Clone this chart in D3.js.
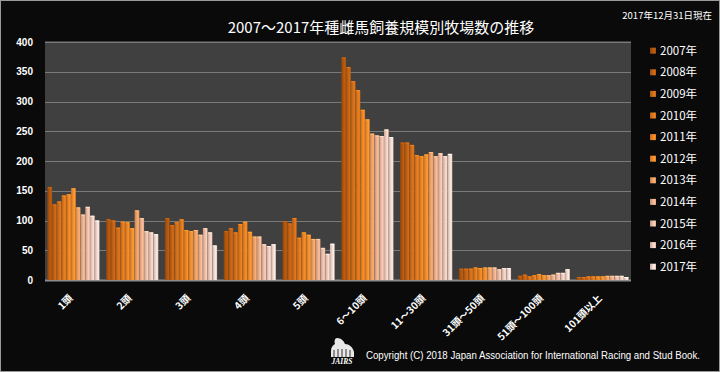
<!DOCTYPE html>
<html>
<head>
<meta charset="utf-8">
<script src="https://cdn.jsdelivr.net/npm/d3@7"></script>
<style>
  html, body { margin: 0; padding: 0; background: #0a0a0a; }
  svg { display: block; font-family: "Noto Sans CJK JP", "Noto Sans", sans-serif; }
</style>
</head>
<body>
<div id="chart"></div>
<script>
const categories = ['1頭', '2頭', '3頭', '4頭', '5頭', '6～10頭', '11～30頭', '31頭～50頭', '51頭～100頭', '101頭以上'];
const years = ['2007年', '2008年', '2009年', '2010年', '2011年', '2012年', '2013年', '2014年', '2015年', '2016年', '2017年'];

const y2007 = [156, 102, 104, 82, 99, 374, 231, 19, 7, 5];
const y2008 = [127, 100, 92, 87, 95, 358, 231, 19, 9, 5];
const y2009 = [132, 88, 97, 80, 104, 334, 227, 19, 6, 6];
const y2010 = [142, 98, 102, 94, 71, 319, 210, 21, 8, 6];
const y2011 = [144, 97, 84, 98, 80, 286, 208, 20, 10, 6];
const y2012 = [154, 87, 82, 81, 76, 270, 211, 21, 8, 6];
const y2013 = [122, 117, 84, 73, 69, 246, 215, 21, 8, 7];
const y2014 = [110, 104, 76, 73, 69, 243, 208, 21, 9, 7];
const y2015 = [123, 82, 87, 60, 54, 242, 213, 18, 12, 7];
const y2016 = [108, 80, 80, 57, 44, 253, 208, 20, 12, 7];
const y2017 = [100, 77, 58, 60, 61, 240, 212, 20, 18, 5];
const series = [y2007, y2008, y2009, y2010, y2011, y2012, y2013, y2014, y2015, y2016, y2017];

const yTicks = [0, 50, 100, 150, 200, 250, 300, 350, 400];

const colors = ['#b0560e', '#c26214', '#d06e1a', '#dc781e', '#ea8424', '#f28e2e',
                '#eea066', '#ecb08e', '#ecbea8', '#efcbbd', '#f2d9d0'];

const W = 720, H = 372;
const plot = {left: 45, right: 631, top: 42, bottom: 280};

const svg = d3.select('#chart').append('svg')
  .attr('width', W)
  .attr('height', H);

svg.append('rect')
  .attr('x', 0.5).attr('y', 0.5)
  .attr('width', W - 1).attr('height', H - 1)
  .attr('fill', '#0a0a0a')
  .attr('stroke', '#9a9a9a');

// gradients for a slightly rounded bar look
const defs = svg.append('defs');
colors.forEach((c, i) => {
  const g = defs.append('linearGradient')
    .attr('id', `g${i}`)
    .attr('x1', 0).attr('x2', 1).attr('y1', 0).attr('y2', 0);
  g.append('stop').attr('offset', '0%').attr('stop-color', d3.color(c).darker(0.6));
  g.append('stop').attr('offset', '45%').attr('stop-color', c);
  g.append('stop').attr('offset', '75%').attr('stop-color', d3.color(c).brighter(0.25));
  g.append('stop').attr('offset', '100%').attr('stop-color', d3.color(c).darker(0.3));
});

const x0 = d3.scaleBand()
  .domain(categories)
  .range([plot.left, plot.right])
  .paddingInner(0.113)
  .paddingOuter(0.04);

const x1 = d3.scaleBand()
  .domain(d3.range(years.length))
  .range([0, x0.bandwidth()])
  .padding(0);

const y = d3.scaleLinear()
  .domain([0, 400])
  .range([plot.bottom, plot.top]);

// plot background
svg.append('rect')
  .attr('x', plot.left)
  .attr('y', plot.top - 1)
  .attr('width', plot.right - plot.left)
  .attr('height', plot.bottom - plot.top + 1)
  .attr('fill', '#404040');

svg.append('g')
  .selectAll('line')
  .data(yTicks)
  .join('line')
  .attr('x1', plot.left)
  .attr('x2', plot.right)
  .attr('y1', d => Math.round(y(d)) + 0.5)
  .attr('y2', d => Math.round(y(d)) + 0.5)
  .attr('stroke', d => d === 0 ? '#8c8c8c' : '#7a7a7a')
  .attr('stroke-width', d => d === 0 ? 2 : 1.2);

// y labels
svg.append('g')
  .selectAll('text')
  .data(yTicks)
  .join('text')
  .attr('x', 33)
  .attr('y', d => y(d) + 3.5)
  .attr('text-anchor', 'end')
  .attr('fill', '#fff')
  .attr('font-size', 10)
  .attr('font-weight', 'bold')
  .attr('font-family', 'Liberation Sans, Arial, sans-serif')
  .text(d => d);

// bars
const groups = svg.append('g')
  .selectAll('g')
  .data(series)
  .join('g')
  .attr('fill', (d, i) => `url(#g${i})`);

groups.each(function (vals, si) {
  d3.select(this)
    .selectAll('rect')
    .data(vals)
    .join('rect')
    .attr('x', (d, ci) => x0(categories[ci]) + x1(si))
    .attr('y', d => y(d))
    .attr('width', x1.bandwidth())
    .attr('height', d => y(0) - y(d));
  // lighter cap on top of each bar
  d3.select(this)
    .selectAll('line')
    .data(vals)
    .join('line')
    .attr('x1', (d, ci) => x0(categories[ci]) + x1(si) + 0.5)
    .attr('x2', (d, ci) => x0(categories[ci]) + x1(si) + x1.bandwidth() - 0.5)
    .attr('y1', d => y(d) + 0.5)
    .attr('y2', d => y(d) + 0.5)
    .attr('stroke', d3.color(colors[si]).brighter(0.5))
    .attr('stroke-width', 1);
});

// x labels
svg.append('g')
  .selectAll('text')
  .data(categories)
  .join('text')
  .attr('transform', d => `translate(${x0(d) + x0.bandwidth() / 2},${299}) rotate(-45)`)
  .attr('text-anchor', 'end')
  .attr('fill', '#fff')
  .attr('font-size', 10)
  .attr('font-weight', 'bold')
  .text(d => d);

// legend
const legend = svg.append('g')
  .selectAll('g')
  .data(years)
  .join('g')
  .attr('transform', (d, i) => `translate(650,${50.7 + i * 21.6})`);

legend.append('rect')
  .attr('x', 0).attr('y', -3)
  .attr('width', 6).attr('height', 6)
  .attr('fill', (d, i) => `url(#g${i})`);

legend.append('text')
  .attr('x', 10)
  .attr('y', 4)
  .attr('fill', '#fff')
  .attr('font-size', 11.5)
  .text(d => d);

// titles
svg.append('text')
  .attr('x', 381)
  .attr('y', 33)
  .attr('text-anchor', 'middle')
  .attr('fill', '#fff')
  .attr('font-size', 15)
  .text('2007～2017年種雌馬飼養規模別牧場数の推移');

svg.append('text')
  .attr('x', 712)
  .attr('y', 19)
  .attr('text-anchor', 'end')
  .attr('fill', '#fff')
  .attr('font-size', 9.5)
  .text('2017年12月31日現在');

// logo + copyright
const logo = svg.append('g').attr('transform', 'translate(328,338)');
logo.append('path')
  .attr('d', 'M9,0 C13,0 16,3 17,6 C21,6 25,9 26,14 L26,19 L3,19 L3,13 C3,9 5,7 7,6 C6,3 7,0 9,0 Z')
  .attr('fill', '#e8e8e8');
logo.append('path')
  .attr('d', 'M6,12 L6,19 M10,11 L10,19 M14,11 L14,19 M18,11 L18,19 M22,12 L22,19')
  .attr('stroke', '#333')
  .attr('stroke-width', 1);
logo.append('text')
  .attr('x', 14)
  .attr('y', 26)
  .attr('text-anchor', 'middle')
  .attr('fill', '#fff')
  .attr('font-size', 7.5)
  .attr('font-weight', 'bold')
  .attr('font-style', 'italic')
  .attr('font-family', 'Liberation Serif, serif')
  .text('JAIRS');

svg.append('text')
  .attr('x', 366)
  .attr('y', 359)
  .attr('fill', '#fff')
  .attr('font-size', 10)
  .attr('font-family', 'Liberation Sans, Arial, sans-serif')
  .attr('textLength', 334)
  .attr('lengthAdjust', 'spacingAndGlyphs')
  .text('Copyright (C) 2018 Japan Association for International Racing and Stud Book.');
</script>
</body>
</html>
